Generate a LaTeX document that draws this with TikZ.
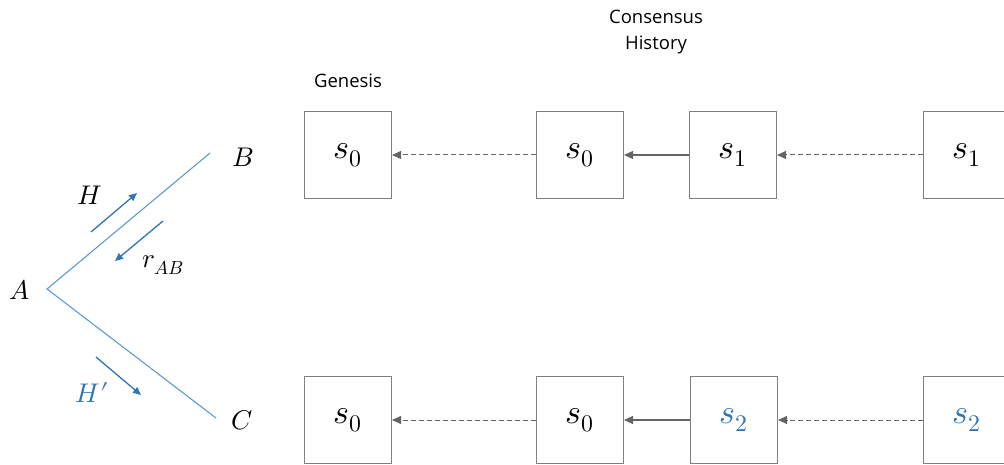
\documentclass[tikz,border=0pt]{standalone}
\usepackage{fontspec}
\usepackage{unicode-math}
\setmathfont{Latin Modern Math}
\setsansfont{Open Sans}
\usetikzlibrary{arrows.meta}
\definecolor{linkblue}{RGB}{91,155,213}
\definecolor{msgblue}{RGB}{46,117,182}
\definecolor{boxgray}{RGB}{127,127,127}
\definecolor{tipgray}{RGB}{100,100,100}
\newcommand{\stlabel}[1]{\raisebox{-6pt}{$#1$}}
\tikzset{
  state/.style={draw=boxgray, line width=1.1pt, minimum width=87pt, minimum height=87pt,
    inner sep=0pt, font=\fontsize{34}{38}\selectfont},
  backref/.style={draw=tipgray, line width=1pt, dashed, dash pattern=on 5pt off 3pt,
    -{Triangle[length=9pt,width=8pt]}},
  parentref/.style={draw=tipgray, line width=1.2pt, -{Triangle[length=9pt,width=8pt]}},
  link/.style={draw=linkblue, line width=1.1pt},
  msg/.style={draw=msgblue, line width=1.3pt, -{Triangle[length=8pt,width=7pt]}},
  mathlbl/.style={font=\fontsize{27}{30}\selectfont},
  caption/.style={font=\sffamily\fontsize{18.5}{26}\selectfont, align=center}
}
\begin{document}
\begin{tikzpicture}[x=1pt,y=-1pt]
\useasboundingbox (0,0) rectangle (1004,465);
\clip (0,0) rectangle (1004,465);

% network of three nodes
\coordinate (vA) at (47,289);
\coordinate (vB) at (210,153);
\coordinate (vC) at (216,418);
\draw[link] (vB) -- (vA) -- (vC);
\node[mathlbl] (lA) at (20,290) {$A$};
\node[mathlbl] (lB) at (243,157) {$B$};
\node[mathlbl] (lC) at (242,420) {$C$};

% messages along the links
\coordinate (h1) at (91,232);
\coordinate (h2) at (137,193);
\draw[msg] (h1) -- (h2);
\node[mathlbl] (lH) at (90,195) {$H$};
\coordinate (r1s) at (163,221);
\coordinate (r1e) at (115,261);
\draw[msg] (r1s) -- (r1e);
\node[mathlbl] (lR) at (163,265) {$r_{AB}$};
\coordinate (hp1) at (96,357);
\coordinate (hp2) at (141,395);
\draw[msg] (hp1) -- (hp2);
\node[mathlbl, text=msgblue] (lHp) at (92,392) {$H\prime$};

% captions
\node[caption] (gen) at (348,81) {Genesis};
\node[caption] (cons) at (656,32) {Consensus\\History};

% chain seen by B
\node[state] (g1) at (348,155) {\stlabel{s_0}};
\node[state] (c1) at (580,155) {\stlabel{s_0}};
\node[state] (n1) at (733,155) {\stlabel{s_1}};
\node[state] (t1) at (967,155) {\stlabel{s_1}};
\draw[backref] (c1) -- (g1);
\draw[parentref] (n1) -- (c1);
\draw[backref] (t1) -- (n1);

% chain seen by C
\node[state] (g2) at (348,420) {\stlabel{s_0}};
\node[state] (c2) at (580,420) {\stlabel{s_0}};
\node[state, text=msgblue] (n2) at (734,420) {\stlabel{s_2}};
\node[state, text=msgblue] (t2) at (967,420) {\stlabel{s_2}};
\draw[backref] (c2) -- (g2);
\draw[parentref] (n2) -- (c2);
\draw[backref] (t2) -- (n2);
\end{tikzpicture}
\end{document}
